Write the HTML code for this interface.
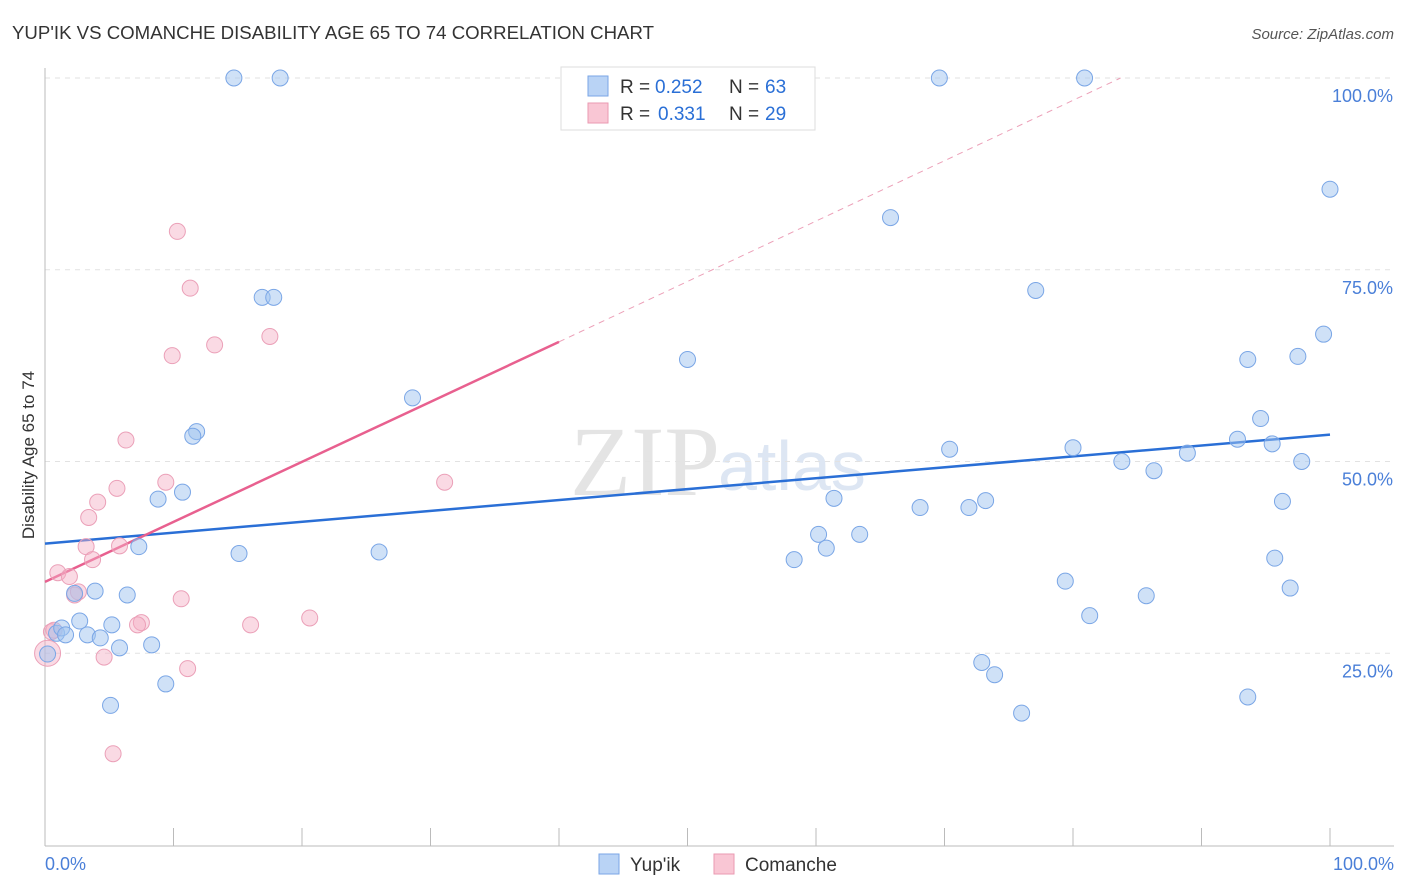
<!DOCTYPE html>
<html><head><meta charset="utf-8"><style>
body{margin:0;background:#fff;font-family:"Liberation Sans",sans-serif;}
svg{display:block}
</style></head><body>
<svg id="chart" width="1406" height="892" xmlns="http://www.w3.org/2000/svg">
<text x="12" y="39" font-size="18" fill="#333" textLength="642" lengthAdjust="spacingAndGlyphs">YUP'IK VS COMANCHE DISABILITY AGE 65 TO 74 CORRELATION CHART</text>
<text x="1394" y="39" font-size="15" fill="#555" font-style="italic" text-anchor="end">Source: ZipAtlas.com</text>
<text x="720" y="495" font-size="100" fill="#e4e4e4" font-family="Liberation Serif" text-anchor="end">ZIP</text>
<text x="718" y="490" font-size="70" fill="#dde6f3">atlas</text>
<g id="grid"></g>
<g id="axes"></g>
<g id="lines"></g>
<g id="pts"></g>
<text transform="translate(34,455) rotate(-90)" font-size="17" fill="#333" text-anchor="middle">Disability Age 65 to 74</text>
<text x="45" y="870" font-size="18" fill="#4a7fd8">0.0%</text>
<text x="1394" y="870" font-size="18" fill="#4a7fd8" text-anchor="end">100.0%</text>
<g>
<rect x="561" y="67" width="254" height="63" fill="#fff" stroke="#ddd"/>
<rect x="588" y="76" width="20" height="20" fill="#b9d3f5" stroke="#7aa6e6"/>
<rect x="588" y="103" width="20" height="20" fill="#f9c6d4" stroke="#ea9ab2"/>
<text x="620" y="93" font-size="19" fill="#333">R =</text>
<text x="655" y="93" font-size="19" fill="#2a6fd6">0.252</text>
<text x="729" y="93" font-size="19" fill="#333">N =</text>
<text x="765" y="93" font-size="19" fill="#2a6fd6">63</text>
<text x="620" y="120" font-size="19" fill="#333">R =</text>
<text x="658" y="120" font-size="19" fill="#2a6fd6">0.331</text>
<text x="729" y="120" font-size="19" fill="#333">N =</text>
<text x="765" y="120" font-size="19" fill="#2a6fd6">29</text>
</g>
<g>
<rect x="599" y="854" width="20" height="20" fill="#b9d3f5" stroke="#7aa6e6"/>
<text x="630" y="871" font-size="19" fill="#333">Yup'ik</text>
<rect x="714" y="854" width="20" height="20" fill="#f9c6d4" stroke="#ea9ab2"/>
<text x="745" y="871" font-size="19" fill="#333">Comanche</text>
</g>
</svg>
<script>
const yTicks=[25,50,75,100];
const yTickLabels=["25.0%","50.0%","75.0%","100.0%"];
const blueX=[14.7,18.3,69.6,80.9,100,65.8,77.1,99.5,16.9,17.8,50.0,93.6,97.5,28.6,94.6,11.8,11.5,70.4,80.0,92.8,95.5,88.9,83.8,86.3,97.8,10.7,8.8,61.4,68.1,71.9,73.2,96.3,60.2,63.4,60.8,7.3,15.1,26.0,58.3,95.7,79.4,85.7,96.9,3.9,6.4,2.3,2.7,5.2,3.3,0.9,1.3,1.6,4.3,5.8,8.3,81.3,72.9,73.9,0.2,9.4,5.1,76.0,93.6];
const blueY=[100,100,100,100,85.5,81.8,72.3,66.6,71.4,71.4,63.3,63.3,63.7,58.3,55.6,53.9,53.3,51.6,51.8,52.9,52.3,51.1,50.0,48.8,50.0,46.0,45.1,45.2,44.0,44.0,44.9,44.8,40.5,40.5,38.7,38.9,38.0,38.2,37.2,37.4,34.4,32.5,33.5,33.1,32.6,32.8,29.2,28.7,27.4,27.6,28.3,27.4,27.0,25.7,26.1,29.9,23.8,22.2,24.9,21.0,18.2,17.2,19.3];
const pinkX=[10.3,11.3,9.9,13.2,17.5,6.3,9.4,31.1,5.6,4.1,3.4,3.2,5.8,3.7,1.0,1.9,2.6,2.3,10.6,7.5,7.2,16.0,20.6,0.7,0.5,4.6,11.1,5.3,0.2];
const pinkY=[80.0,72.6,63.8,65.2,66.3,52.8,47.3,47.3,46.5,44.7,42.7,38.9,39.0,37.2,35.5,35.0,33.0,32.6,32.1,29.0,28.7,28.7,29.6,28.0,27.8,24.5,23.0,11.9,25.0];
const blueTrend=[39.3,53.5];
const pinkTrend=[34.3,65.6,100];
const pinkTrendX=[0,40,83.7];
const X=v=>45+v*12.85, Y=v=>845-v*7.67;
const NS="http://www.w3.org/2000/svg";
function mk(p,t,a){const e=document.createElementNS(NS,t);for(const k in a)e.setAttribute(k,a[k]);p.appendChild(e);return e;}
const grid=document.getElementById('grid');
yTicks.forEach((t,i)=>{
 const l=mk(grid,'line',{x1:45,x2:1394,y1:Y(t),y2:Y(t),stroke:'#e2e2e2','stroke-dasharray':'5,5'});
 
 
 const tx=mk(grid,'text',{x:1393,y:Y(t)+24,'font-size':18,fill:'#4a7fd8','text-anchor':'end'});
 tx.textContent=yTickLabels[i];
 
 
});
const ax=document.getElementById('axes');
const ya=mk(ax,'line',{x1:45,x2:45,y1:68,y2:846,stroke:'#bbb'});


const xa=mk(ax,'line',{x1:45,x2:1394,y1:846,y2:846,stroke:'#bbb'});


for(let i=0;i<=10;i++){const t=mk(ax,'line',{x1:X(i*10),x2:X(i*10),y1:828,y2:846,stroke:'#bbb'});
 
 }
const ln=document.getElementById('lines');
const pts=document.getElementById('pts');
pinkX.forEach((x,i)=>{const r=(i==pinkX.length-1)?13:8;const c=mk(pts,'circle',{cx:X(x),cy:Y(pinkY[i]),r:r,fill:'rgba(245,172,196,0.45)',stroke:'#eba0b8','stroke-width':1});
 
 });
blueX.forEach((x,i)=>{const c=mk(pts,'circle',{cx:X(x),cy:Y(blueY[i]),r:8,fill:'rgba(160,196,240,0.5)',stroke:'#7aa6e6','stroke-width':1});
 
 });
const bl=mk(ln,'line',{x1:X(0),y1:Y(blueTrend[0]),x2:X(100),y2:Y(blueTrend[1]),stroke:'#2a6fd6','stroke-width':2.5});


const pl=mk(ln,'line',{x1:X(pinkTrendX[0]),y1:Y(pinkTrend[0]),x2:X(pinkTrendX[1]),y2:Y(pinkTrend[1]),stroke:'#e8608f','stroke-width':2.5});


const pd=mk(ln,'line',{x1:X(pinkTrendX[1]),y1:Y(pinkTrend[1]),x2:X(pinkTrendX[2]),y2:Y(pinkTrend[2]),stroke:'#eca0b8','stroke-width':1,'stroke-dasharray':'6,5'});


</script>
</body></html>
